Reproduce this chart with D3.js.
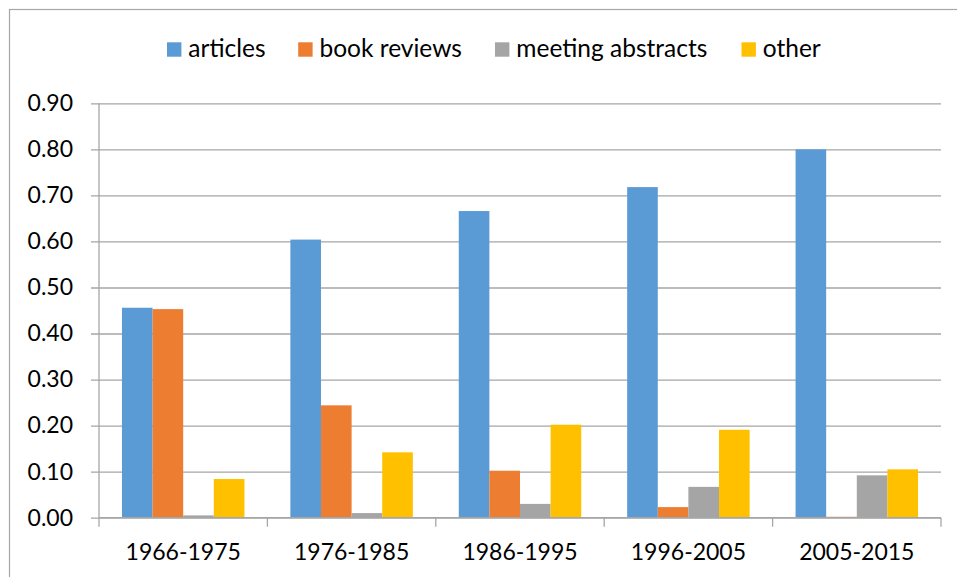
<!DOCTYPE html>
<html>
<head>
<meta charset="utf-8">
<script src="https://cdn.jsdelivr.net/npm/d3@7"></script>
<style>
  html, body { margin: 0; padding: 0; background: #fff; }
  svg { display: block; }
</style>
</head>
<body>
<svg id="chart" width="957" height="577"></svg>
<script>
const categories = ["1966-1975", "1976-1985", "1986-1995", "1996-2005", "2005-2015"];
const seriesNames = ["articles", "book reviews", "meeting abstracts", "other"];
const articles = [0.456, 0.604, 0.666, 0.718, 0.800];
const bookReviews = [0.453, 0.244, 0.102, 0.023, 0.002];
const meetingAbstracts = [0.005, 0.010, 0.030, 0.067, 0.092];
const other = [0.084, 0.142, 0.202, 0.191, 0.105];
const yTicks = [0, 0.1, 0.2, 0.3, 0.4, 0.5, 0.6, 0.7, 0.8, 0.9];
const colors = ["#5B9BD5", "#ED7D31", "#A5A5A5", "#FFC000"];

const seriesValues = [articles, bookReviews, meetingAbstracts, other];
const FONT = "Lato, 'DejaVu Sans', sans-serif";

const svg = d3.select("#chart");

// outer frame
svg.append("rect")
  .attr("x", 9.5).attr("y", 9.5)
  .attr("width", 1000).attr("height", 1000)
  .attr("fill", "#fff").attr("stroke", "#a6a6a6").attr("stroke-width", 1.2);

const pLeft = 99, pRight = 941, pTop = 103.3, pBottom = 517.7;

const x0 = d3.scaleBand().domain(categories).range([pLeft, pRight]).padding(0);
const x1 = d3.scaleBand().domain(seriesNames).range([0, x0.bandwidth()])
  .paddingInner(0).paddingOuter(0.75);
const y = d3.scaleLinear().domain([0, 0.9]).range([pBottom, pTop]);

const grid = "#a6a6a6";

// gridlines + y axis
const yAxis = d3.axisLeft(y).tickValues(yTicks).tickFormat(d3.format(".2f"))
  .tickSize(-(pRight - pLeft)).tickPadding(18);
const gy = svg.append("g").attr("transform", `translate(${pLeft},0)`).call(yAxis);
gy.select(".domain").remove();
gy.selectAll(".tick line").attr("stroke", grid).attr("stroke-width", 1.3)
  .attr("x1", -8);
gy.selectAll(".tick text").attr("font-family", FONT).attr("font-size", 23)
  .attr("fill", "#000").attr("x", -26);

// left axis line
svg.append("line").attr("x1", pLeft).attr("x2", pLeft)
  .attr("y1", pTop).attr("y2", pBottom)
  .attr("stroke", grid).attr("stroke-width", 1.3);

// bars
const groups = svg.append("g").selectAll("g")
  .data(categories)
  .join("g")
  .attr("transform", d => `translate(${x0(d)},0)`);

groups.selectAll("rect")
  .data((c, i) => seriesNames.map((s, k) => ({ s, k, v: seriesValues[k][i] })))
  .join("rect")
  .attr("x", d => x1(d.s))
  .attr("width", x1.bandwidth())
  .attr("y", d => y(d.v))
  .attr("height", d => y(0) - y(d.v))
  .attr("fill", d => colors[d.k]);

// x axis
const xAxis = d3.axisBottom(x0).tickSize(0).tickPadding(26);
const gx = svg.append("g").attr("transform", `translate(0,${pBottom})`).call(xAxis);
gx.select(".domain").attr("stroke", grid).attr("stroke-width", 1.3)
  .attr("d", `M${pLeft},0H${pRight}`);
gx.selectAll(".tick text").attr("font-family", FONT).attr("font-size", 23).attr("fill", "#000");

// category boundary ticks
const bounds = categories.map(c => x0(c)).concat([pRight]);
svg.append("g").selectAll("line").data(bounds).join("line")
  .attr("x1", d => d).attr("x2", d => d)
  .attr("y1", pBottom).attr("y2", pBottom + 9)
  .attr("stroke", grid).attr("stroke-width", 1.3);

// legend
const legendX = [167, 298.2, 495, 741.5];
const legend = svg.append("g").selectAll("g").data(seriesNames).join("g")
  .attr("transform", (d, i) => `translate(${legendX[i]},56.7)`);
legend.append("rect").attr("x", 0).attr("y", -14.4).attr("width", 14.4).attr("height", 14.4)
  .attr("fill", (d, i) => colors[i]);
legend.append("text").attr("x", 21.3).attr("y", 0)
  .attr("font-family", FONT).attr("font-size", 24.5).attr("fill", "#000")
  .text(d => d);
</script>
</body>
</html>
